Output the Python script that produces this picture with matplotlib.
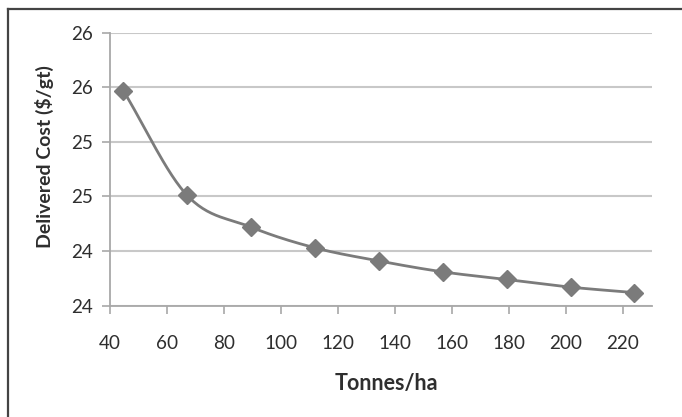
import numpy as np
import matplotlib
matplotlib.use("Agg")
import matplotlib.pyplot as plt
from matplotlib.lines import Line2D
from matplotlib.ticker import FuncFormatter, MultipleLocator

# Tonnes/ha vs delivered cost
tonnes_ha = [44.8, 67.2, 89.6, 112.0, 134.4, 156.8, 179.2, 201.6, 224.0]
delivered_cost = [25.47, 24.51, 24.22, 24.03, 23.91, 23.81, 23.74, 23.67, 23.62]

x_ticks = [40, 60, 80, 100, 120, 140, 160, 180, 200, 220]

plt.rcParams['font.family'] = ['Lato', 'DejaVu Sans']
text_col = '#2e2e2e'
line_col = '#7b7b7b'


def smooth_curve(xs, ys, n=30):
    # catmull-rom through the points, like Excel's smoothed line
    xs = np.asarray(xs, float)
    ys = np.asarray(ys, float)
    px = np.concatenate([[2 * xs[0] - xs[1]], xs, [2 * xs[-1] - xs[-2]]])
    py = np.concatenate([[2 * ys[0] - ys[1]], ys, [2 * ys[-1] - ys[-2]]])
    t = np.linspace(0, 1, n)[:, None]
    out_x, out_y = [], []
    for i in range(1, len(px) - 2):
        for p, out in ((px, out_x), (py, out_y)):
            p0, p1, p2, p3 = p[i - 1], p[i], p[i + 1], p[i + 2]
            seg = 0.5 * (2 * p1 + (-p0 + p2) * t + (2 * p0 - 5 * p1 + 4 * p2 - p3) * t ** 2
                         + (-p0 + 3 * p1 - 3 * p2 + p3) * t ** 3)
            out.extend(seg.ravel())
    return out_x, out_y


fig = plt.figure(figsize=(6.82, 4.17), dpi=100)
fig.patch.set_facecolor('white')
ax = fig.add_axes([0.1607, 0.2669, 0.7946, 0.6547])

sx, sy = smooth_curve(tonnes_ha, delivered_cost)
ax.plot(sx, sy, color=line_col, lw=2.0, zorder=3)
ax.plot(tonnes_ha, delivered_cost, linestyle='none', marker='D', markersize=9,
        color=line_col, zorder=4)

ax.set_xlim(40, 230)
ax.set_ylim(23.5, 26.0)
ax.set_xticks(x_ticks)
ax.yaxis.set_major_locator(MultipleLocator(0.5))
# Excel "0" format: round half up
ax.yaxis.set_major_formatter(FuncFormatter(lambda v, p: '%d' % np.floor(v + 0.5 + 1e-9)))

ax.grid(axis='y', color='#c8c8c8', lw=1.5)
ax.set_axisbelow(True)
for s in ['top', 'right']:
    ax.spines[s].set_visible(False)
for s in ['left', 'bottom']:
    ax.spines[s].set_color('#a8a8a8')
    ax.spines[s].set_linewidth(1.3)

ax.tick_params(axis='x', direction='out', length=6, width=1.2, color='#a8a8a8',
               pad=15, labelsize=13.6, labelcolor=text_col)
ax.tick_params(axis='y', direction='out', length=6, width=1.2, color='#a8a8a8',
               pad=6, labelsize=13.6, labelcolor=text_col)

ax.set_xlabel('Tonnes/ha', fontsize=15.5, fontweight='bold', color=text_col)
ax.set_ylabel('Delivered Cost ($/gt)', fontsize=14, fontweight='bold', color=text_col)
ax.xaxis.set_label_coords(0.511, -0.245)
ax.yaxis.set_label_coords(-0.103, 0.548)

# outer chart border (top and left edges visible)
fig.add_artist(Line2D([7.5 / 682, 7.5 / 682], [0, 1 - 9 / 417], transform=fig.transFigure,
                      color='#444444', lw=1.6))
fig.add_artist(Line2D([7.5 / 682, 1], [1 - 9 / 417, 1 - 9 / 417], transform=fig.transFigure,
                      color='#444444', lw=1.6))

plt.savefig('out.png', dpi=100)
